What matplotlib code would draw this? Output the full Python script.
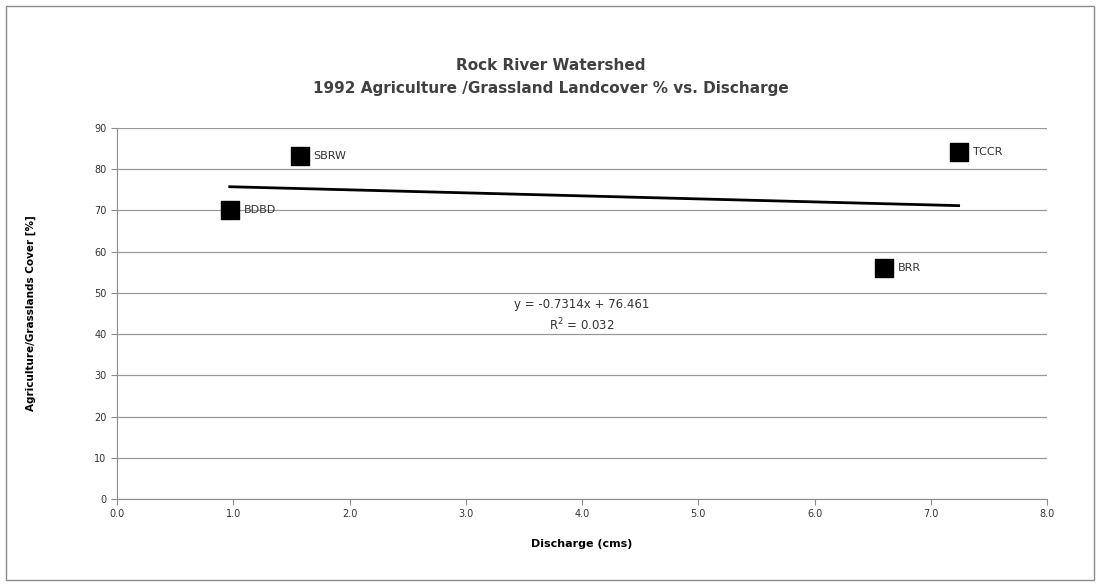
import matplotlib
matplotlib.use("Agg")
import matplotlib.pyplot as plt
import numpy as np

# data
sites = ["SBRW", "BDBD", "TCCR", "BRR"]
discharge = [1.57, 0.97, 7.24, 6.60]
ag_cover = [83.2, 70.1, 84.2, 56.1]

# trendline reported on the chart
slope = -0.7314
intercept = 76.461
r2 = 0.032

fig = plt.figure(figsize=(11.02, 5.85), dpi=100)
ax = fig.add_axes([117 / 1102, 86 / 585, 930 / 1102, 371 / 585])

# outer chart border
fig.patches.append(plt.Rectangle((6 / 1102, 5 / 585), 1088 / 1102, 574 / 585,
                                 transform=fig.transFigure, fill=False,
                                 edgecolor="#8c8c8c", linewidth=1))

ax.scatter(discharge, ag_cover, marker="s", s=150, color="black", zorder=3)
for name, x, y in zip(sites, discharge, ag_cover):
    ax.annotate(name, (x, y), xytext=(10, 0), textcoords="offset points",
                fontsize=8, color="#333333", va="center")

xs = np.array([min(discharge), max(discharge)])
ax.plot(xs, slope * xs + intercept, color="black", linewidth=2, zorder=2)

ax.text(4.0, 47.3, f"y = {slope}x + {intercept}", fontsize=8.5,
        color="#333333", ha="center", va="center")
ax.text(4.0, 42.2, f"R$^2$ = {r2}", fontsize=8.5, color="#333333",
        ha="center", va="center")

ax.set_xlim(0, 8)
ax.set_ylim(0, 90)
ax.set_xticks(np.arange(0, 8.1, 1))
ax.set_xticklabels([f"{v:.1f}" for v in np.arange(0, 8.1, 1)])
ax.set_yticks(range(0, 91, 10))
ax.tick_params(labelsize=7, colors="#333333", length=4)
ax.tick_params(axis="both", color="#8c8c8c")
ax.grid(axis="y", color="#999999", linewidth=0.9)
ax.set_axisbelow(True)
for s in ["top", "right"]:
    ax.spines[s].set_visible(False)
for s in ["left", "bottom"]:
    ax.spines[s].set_color("#8c8c8c")

ax.set_xlabel("Discharge (cms)", fontsize=8, fontweight="bold", labelpad=14)
ax.set_ylabel("Agriculture/Grasslands Cover [%]", fontsize=7.5,
              fontweight="bold", labelpad=42)

fig.text(0.5, 1 - 65 / 585, "Rock River Watershed", ha="center", va="center",
         fontsize=11, fontweight="bold", color="#404040")
fig.text(0.5, 1 - 88 / 585,
         "1992 Agriculture /Grassland Landcover % vs. Discharge",
         ha="center", va="center", fontsize=11, fontweight="bold",
         color="#404040")

fig.savefig("out.png", dpi=100)
